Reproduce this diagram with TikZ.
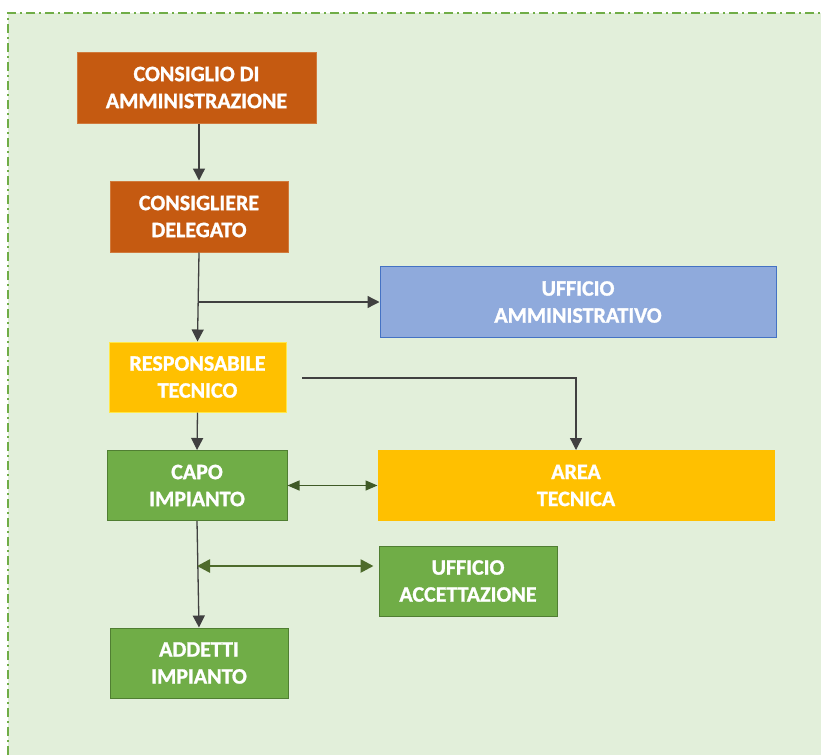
\documentclass[tikz,border=0pt]{standalone}
\usepackage{fontspec}
\setmainfont{Carlito}[BoldFeatures={FakeBold=1.2}]
\usetikzlibrary{arrows.meta}
\definecolor{bgc}{HTML}{E2EFDA}
\definecolor{frame}{HTML}{70AD47}
\definecolor{orangeF}{HTML}{C55A11}
\definecolor{orangeD}{HTML}{D07A3C}
\definecolor{blueF}{HTML}{8FAADC}
\definecolor{blueD}{HTML}{4472C4}
\definecolor{goldF}{HTML}{FFC000}
\definecolor{goldD}{HTML}{FFE84A}
\definecolor{greenF}{HTML}{70AD47}
\definecolor{greenD}{HTML}{507E32}
\definecolor{lineC}{HTML}{404040}
\definecolor{dgreen}{HTML}{3F5A26}
\definecolor{dgreen2}{HTML}{4E6B2B}
\tikzset{
  box/.style={rectangle, draw, line width=1pt, text=white, align=center,
    font=\fontsize{22}{27}\selectfont\bfseries, inner sep=0pt},
  orgbox/.style={box, fill=orangeF, draw=orangeD},
  bluebox/.style={box, fill=blueF, draw=blueD},
  goldbox/.style={box, fill=goldF, draw=goldD},
  areabox/.style={box, fill=goldF, draw=goldF},
  grnbox/.style={box, fill=greenF, draw=greenD},
  arr/.style={draw=lineC, line width=1.3pt, -{Triangle[length=12pt,width=12pt]}},
  garr/.style={draw=dgreen, line width=1.3pt, {Triangle[length=12pt,width=10pt]}-{Triangle[length=12pt,width=10pt]}},
  garr2/.style={draw=dgreen2, line width=2.6pt, {Triangle[length=13pt,width=13pt]}-{Triangle[length=13pt,width=13pt]}},
}
\begin{document}
\begin{tikzpicture}[x=1pt,y=-1pt]
\useasboundingbox (0,0) rectangle (821,755);
\fill[white] (0,0) rectangle (821,755);
\fill[bgc] (8,13) rectangle (821,755);
\draw[frame, line width=2pt, dash pattern=on 9pt off 4pt on 2pt off 4pt] (8,755) -- (8,13) -- (821,13);

\node[orgbox, minimum width=239pt, minimum height=71pt] (cda) at (196.5,87.5) {CONSIGLIO DI\\AMMINISTRAZIONE};
\node[orgbox, minimum width=178pt, minimum height=71pt] (cd) at (199,216.5) {CONSIGLIERE\\DELEGATO};
\node[bluebox, minimum width=396pt, minimum height=71pt] (uamm) at (578,302) {UFFICIO\\AMMINISTRATIVO};
\node[goldbox, minimum width=177pt, minimum height=70pt] (resp) at (197.5,377) {RESPONSABILE\\TECNICO};
\node[grnbox, minimum width=180pt, minimum height=70pt] (capo) at (197,485.5) {CAPO\\IMPIANTO};
\node[areabox, minimum width=396pt, minimum height=70pt] (area) at (576,485.5) {AREA\\TECNICA};
\node[grnbox, minimum width=178pt, minimum height=70pt] (uacc) at (468,581) {UFFICIO\\ACCETTAZIONE};
\node[grnbox, minimum width=178pt, minimum height=70pt] (add) at (199,663) {ADDETTI\\IMPIANTO};

\coordinate (j1) at (198,302);
\coordinate (r1) at (302,378);
\coordinate (j2) at (197,566);

\draw[arr] (cd.north |- cda.south) -- (cd.north);
\draw[arr] (cd.south) -- (resp.north);
\draw[arr] (j1) -- (uamm.west |- j1);
\draw[arr] (r1) -| (area.north);
\draw[arr] (resp.south) -- (capo.north);
\draw[arr] (capo.south) -- (add.north);
\draw[garr] (capo.east) -- (area.west);
\draw[garr2, shorten >=5pt] (j2) -- (j2 -| uacc.west);
\end{tikzpicture}
\end{document}
